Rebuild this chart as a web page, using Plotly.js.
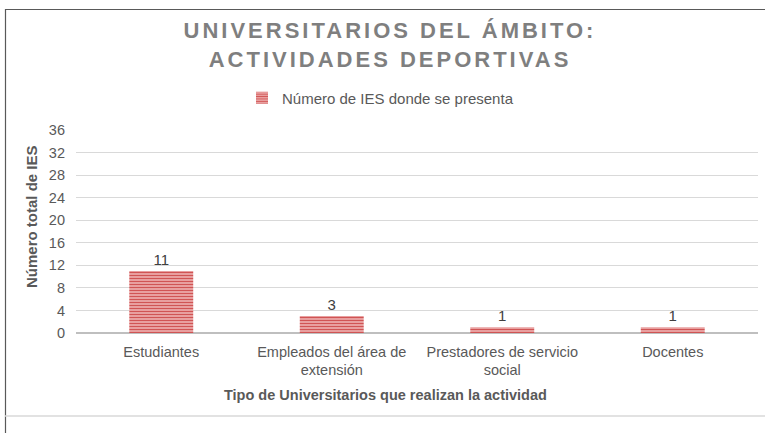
<!DOCTYPE html>
<html><head><meta charset="utf-8">
<script src="https://cdn.plot.ly/plotly-3.0.1.min.js"></script>
<style>
html,body{margin:0;padding:0;background:#fff;}
#chart{width:765px;height:433px;}
.gtitle{letter-spacing:3px;}
</style></head>
<body><div id="chart"></div>
<script>
const categories = ["Estudiantes", "Empleados del área de<br>extensión", "Prestadores de servicio<br>social", "Docentes"];
const values = [11, 3, 1, 1];
const seriesName = "Número de IES donde se presenta";
const yTicks = [0, 4, 8, 12, 16, 20, 24, 28, 32, 36];
const xTitle = "Tipo de Universitarios que realizan la actividad";
const yTitle = "Número total de IES";

const W = 765, H = 433, L = 76, R = 7, T = 130, B = 100;
const pw = W - L - R, ph = H - T - B;
const px = v => (v - L) / pw;
const py = v => (H - B - v) / ph;
const FONT = 'Liberation Sans, Arial, sans-serif';

const trace = {
  type: 'bar', x: categories, y: values, name: seriesName,
  text: values.map(String), textposition: 'outside', cliponaxis: false,
  textfont: {family: FONT, size: 15, color: '#404040'},
  marker: {color: '#eca8a8', line: {width: 0},
    pattern: {shape: '-', fgcolor: '#d05454', bgcolor: '#f0b8b8', size: 3, solidity: 0.5}},
  width: 0.375, showlegend: true
};

const layout = {
  width: W, height: H,
  margin: {l: L, r: R, t: T, b: B},
  paper_bgcolor: '#fff', plot_bgcolor: '#fff',
  font: {family: FONT, color: '#595959', size: 14},
  title: {text: '<b>UNIVERSITARIOS DEL ÁMBITO:<br>ACTIVIDADES DEPORTIVAS</b>',
    font: {family: FONT, size: 22, color: '#7f7f7f'},
    x: 390 / W, xanchor: 'center', y: 1 - 38/H, yanchor: 'top'},
  showlegend: true,
  legend: {orientation: 'h', x: px(242), xanchor: 'left', y: py(98), yanchor: 'middle',
    font: {size: 15, color: '#595959'}, itemwidth: 30},
  xaxis: {showgrid: false, showline: false, ticks: '', tickfont: {size: 14.5, color: '#595959'},
    ticklabelstandoff: 8},
  yaxis: {range: [0, 36], tickvals: yTicks, showgrid: true, gridcolor: '#d9d9d9', gridwidth: 1,
    zeroline: true, zerolinecolor: '#bfbfbf', zerolinewidth: 2, showline: false, ticks: '',
    tickfont: {size: 14.5, color: '#595959'}, ticklabelstandoff: 10},
  annotations: [
    {text: '<b>' + yTitle + '</b>', textangle: -90, xref: 'paper', yref: 'paper', x: px(31), y: py(217),
      xanchor: 'center', yanchor: 'middle', showarrow: false, font: {size: 15, color: '#595959'}},
    {text: '<b>' + xTitle + '</b>', xref: 'paper', yref: 'paper', x: px(385), y: py(395),
      xanchor: 'center', yanchor: 'middle', showarrow: false, font: {size: 14.5, color: '#595959'}}
  ],
  shapes: [
    {type: 'line', xref: 'paper', yref: 'paper', x0: px(5), x1: px(765), y0: py(9.5), y1: py(9.5), line: {color: '#595959', width: 1.2}},
    {type: 'line', xref: 'paper', yref: 'paper', x0: px(5.5), x1: px(5.5), y0: py(9), y1: py(433), line: {color: '#595959', width: 1.2}},
    {type: 'line', xref: 'paper', yref: 'paper', x0: px(5), x1: px(765), y0: py(416), y1: py(416), line: {color: '#d9d9d9', width: 1.5}}
  ]
};

Plotly.newPlot('chart', [trace], layout, {displayModeBar: false, staticPlot: true});
</script></body></html>
